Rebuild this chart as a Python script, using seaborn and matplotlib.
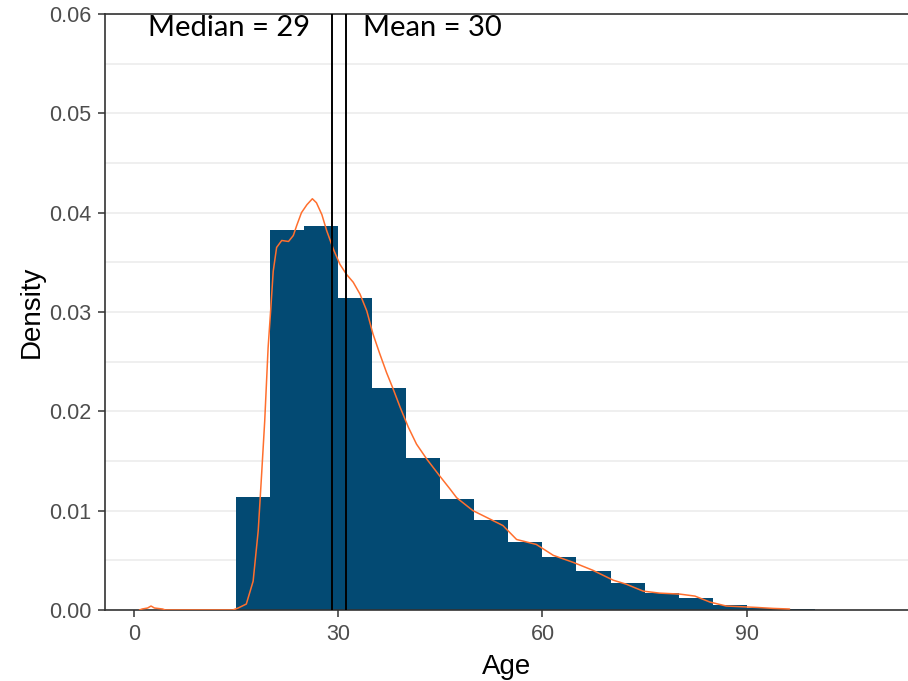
import numpy as np
import pandas as pd
import matplotlib
matplotlib.use("Agg")
import matplotlib.pyplot as plt
import seaborn as sns

# ---- data ----
bin_edges = [15, 20, 25, 30, 35, 40, 45, 50, 55, 60, 65, 70, 75, 80, 85, 90, 95, 100]
bar_density = [0.0114, 0.0383, 0.0387, 0.0314, 0.0223, 0.0153, 0.0112, 0.00905,
               0.00687, 0.00529, 0.00388, 0.00272, 0.00171, 0.00117, 0.0005,
               0.00016, 0.0001]

kde_age = [0.8, 1.2, 2.0, 2.5, 3.0, 4.2, 4.6, 14.5, 15.3, 16.5, 17.5, 18.25, 18.75,
           19.2, 19.7, 20.1, 20.45, 20.95, 21.7, 22.7, 23.4, 23.9, 24.6, 25.4,
           26.2, 26.8, 27.6, 28.3, 29.3, 30.25, 31.2, 32.2, 33.2, 34.2, 35.1,
           36.1, 37.1, 38.1, 39.1, 40.3, 41.5, 43.0, 44.9, 46.4, 47.4, 49.8,
           52.3, 54.2, 56.2, 59.1, 61.6, 64.5, 67.4, 70.4, 72.3, 74.8, 77.2,
           80.2, 82.4, 84.6, 87.0, 91.4, 93.9, 96.3]
kde_density = [0.0, 0.0001, 0.0002, 0.0004, 0.0002, 0.0001, 0.0, 0.0, 0.0002,
               0.0006, 0.0029, 0.0080, 0.0137, 0.0190, 0.0264, 0.0304, 0.0341,
               0.0365, 0.0372, 0.0371, 0.0377, 0.0387, 0.0400, 0.0408, 0.0414,
               0.0410, 0.0398, 0.0382, 0.0363, 0.0348, 0.0338, 0.0330, 0.0318,
               0.0301, 0.0278, 0.0258, 0.0239, 0.0222, 0.0204, 0.0184, 0.0167,
               0.0152, 0.0135, 0.0122, 0.0113, 0.0100, 0.00915, 0.0085, 0.0071,
               0.0066, 0.0055, 0.0048, 0.0040, 0.0030, 0.0026, 0.0019, 0.0017,
               0.0016, 0.0014, 0.0008, 0.0004, 0.00026, 0.00016, 0.0001]

median_age = 29.1
mean_age = 31.1
median_label = "Median = 29"
mean_label = "Mean = 30"
x_ticks = [0, 30, 60, 90]
y_ticks = [0.00, 0.01, 0.02, 0.03, 0.04, 0.05, 0.06]

# ---- figure ----
sns.set_theme(style="white")
plt.rcParams['font.family'] = ['Liberation Sans', 'DejaVu Sans']

fig = plt.figure(figsize=(9.08, 6.81), dpi=100)
ax = fig.add_axes([105 / 908, 1 - 610 / 681, 1 - 105 / 908, (610 - 14) / 681])

centers = [(a + b) / 2 for a, b in zip(bin_edges[:-1], bin_edges[1:])]
hist_df = pd.DataFrame({"age": centers, "w": bar_density})
sns.histplot(data=hist_df, x="age", weights="w", bins=bin_edges, stat="count",
             color="#034A73", alpha=1.0, linewidth=0, ax=ax, zorder=2)

kde_df = pd.DataFrame({"age": kde_age, "density": kde_density})
sns.lineplot(data=kde_df, x="age", y="density", color="#FF6F2E", linewidth=1.1,
             ax=ax, zorder=4, sort=False)

ax.axvline(median_age, color="black", linewidth=1.4, zorder=5)
ax.axvline(mean_age, color="black", linewidth=1.4, zorder=5)

ax.text(median_age - 3.24, 0.0578, median_label, ha="right", va="baseline",
        fontsize=21, family=["Lato", "DejaVu Sans"], color="black", zorder=6)
ax.text(mean_age + 2.54, 0.0578, mean_label, ha="left", va="baseline",
        fontsize=21, family=["Lato", "DejaVu Sans"], color="black", zorder=6)

ax.set_xlim(-4.26, 113.7)
ax.set_ylim(0, 0.06)
ax.set_xticks(x_ticks)
ax.set_yticks(y_ticks)
ax.set_yticklabels([f"{v:.2f}" for v in y_ticks])
ax.set_yticks(np.arange(0.005, 0.06, 0.01), minor=True)
ax.grid(axis="y", which="both", color="#EBEBEB", linewidth=1.1, zorder=0)
ax.grid(axis="x", visible=False)
ax.set_axisbelow(True)

ax.tick_params(axis="both", which="major", direction="out", length=5, width=1.1,
               color="#333333", labelsize=15.5, labelcolor="#4D4D4D", pad=5,
               bottom=True, left=True)
ax.tick_params(axis="y", which="minor", length=0)

for side in ["left", "bottom", "top"]:
    ax.spines[side].set_visible(True)
    ax.spines[side].set_color("#333333")
    ax.spines[side].set_linewidth(1.2)
ax.spines["right"].set_visible(False)

ax.set_xlabel("Age", fontsize=20, color="black", labelpad=6.8)
ax.set_ylabel("Density", fontsize=20, color="black", labelpad=3)

fig.savefig("out.png", dpi=100)
